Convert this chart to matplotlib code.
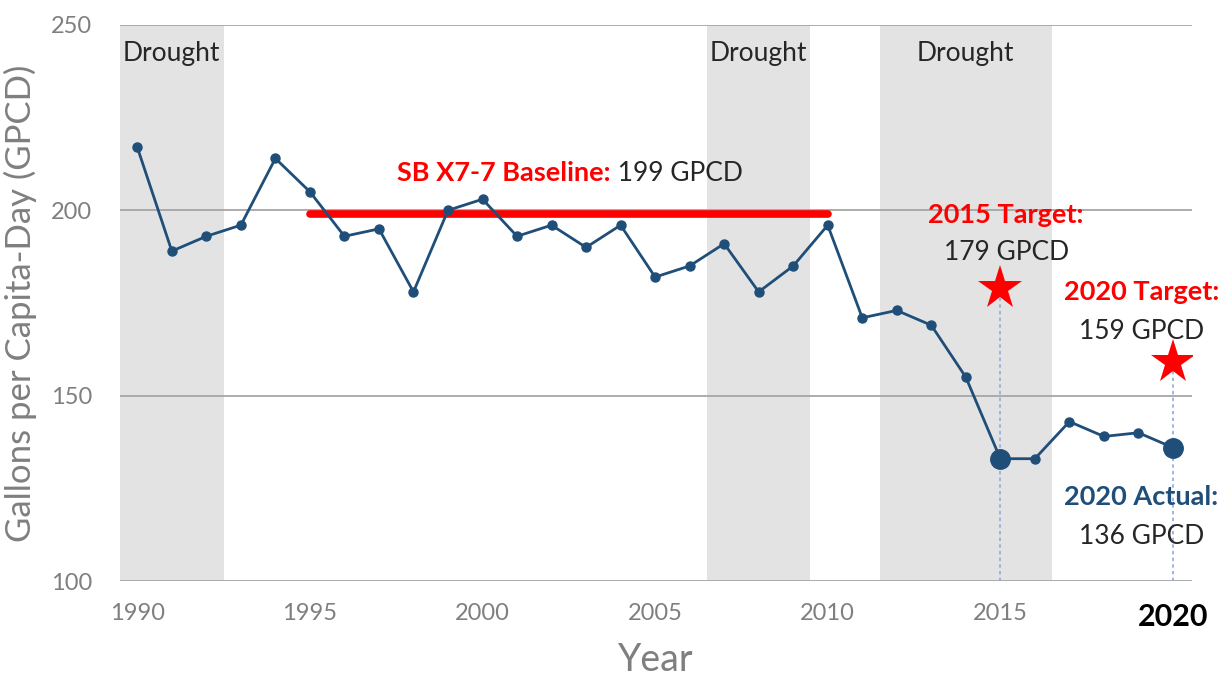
import matplotlib
matplotlib.use("Agg")
import matplotlib.pyplot as plt

plt.rcParams["font.family"] = ["Lato", "DejaVu Sans"]

# data
years = list(range(1990, 2021))
gpcd = [217, 189, 193, 196, 214, 205, 193, 195, 178, 200,
        203, 193, 196, 190, 196, 182, 185, 191, 178, 185,
        196, 171, 173, 169, 155, 133, 133, 143, 139, 140, 136]

drought_periods = [(1989.5, 1992.5), (2006.5, 2009.5), (2011.5, 2016.5)]

baseline_years = [1995, 2010]
baseline_value = 199

target_years = [2015, 2020]
target_values = [179, 159]
highlight_years = [2015, 2020]

x_ticks = [1990, 1995, 2000, 2005, 2010, 2015, 2020]
y_ticks = [100, 150, 200, 250]

LINE_BLUE = "#1f4e79"
RED = "#ff0000"
GREY_TEXT = "#7f7f7f"
DARK_TEXT = "#262626"
FS = 19
FS_BOLD = 19.5

fig = plt.figure(figsize=(12.25, 6.79), dpi=100)
ax = fig.add_axes([0.098, 0.1443, 0.875, 0.8189])

for start, end in drought_periods:
    ax.axvspan(start, end, color="#e3e3e3", lw=0, zorder=0)
    ax.text((start + end) / 2, 242.4, "Drought", ha="center", va="center",
            fontsize=FS, color=DARK_TEXT, zorder=3)

for y in y_ticks:
    ax.axhline(y, color="#a6a6a6", lw=1.3, zorder=1)

# targets: dotted drop lines and stars
for yr, val in zip(target_years, target_values):
    ax.vlines(yr, 100, val, colors="#8eaadb", linestyles=(0, (2, 2)), lw=1.2, zorder=2)
ax.plot(target_years, target_values, linestyle="none", marker="*", markersize=33,
        color=RED, markeredgewidth=0, zorder=5)

ax.plot(baseline_years, [baseline_value] * 2, color=RED, lw=5.5,
        solid_capstyle="round", zorder=3)

ax.plot(years, gpcd, color=LINE_BLUE, lw=2, marker="o", markersize=6.5, zorder=4)
hl_vals = [gpcd[years.index(yr)] for yr in highlight_years]
ax.plot(highlight_years, hl_vals, linestyle="none", marker="o", markersize=14,
        color=LINE_BLUE, zorder=4)

# annotations
bl = ax.text(1997.53, 210, "SB X7-7 Baseline:", ha="left", va="center", fontsize=FS_BOLD,
             fontweight="bold", color=RED, zorder=6)
ax.annotate(" 199 GPCD", xy=(1, 0.5), xycoords=bl, ha="left", va="center",
            fontsize=FS, color=DARK_TEXT, zorder=6)

ax.text(2015.17, 198.7, "2015 Target:", ha="center", va="center", fontsize=FS_BOLD,
        fontweight="bold", color=RED, zorder=6)
ax.text(2015.17, 188.5, "179 GPCD", ha="center", va="center", fontsize=FS,
        color=DARK_TEXT, zorder=6)
ax.text(2019.09, 178, "2020 Target:", ha="center", va="center", fontsize=FS_BOLD,
        fontweight="bold", color=RED, zorder=6)
ax.text(2019.09, 167.3, "159 GPCD", ha="center", va="center", fontsize=FS,
        color=DARK_TEXT, zorder=6)
ax.text(2019.09, 122.7, "2020 Actual:", ha="center", va="center", fontsize=FS_BOLD,
        fontweight="bold", color=LINE_BLUE, zorder=6)
ax.text(2019.09, 112, "136 GPCD", ha="center", va="center", fontsize=FS,
        color=DARK_TEXT, zorder=6)

ax.set_xlim(1989.5, 2020.55)
ax.set_ylim(100, 250)
for side in ["top", "right", "left", "bottom"]:
    ax.spines[side].set_visible(False)

ax.set_xticks(x_ticks)
ax.set_xticklabels([str(x) for x in x_ticks])
ax.set_yticks(y_ticks)
ax.tick_params(axis="both", length=0, labelsize=17, labelcolor=GREY_TEXT)
ax.tick_params(axis="y", pad=20)
ax.tick_params(axis="x", pad=16)
last = ax.get_xticklabels()[-1]
last.set_fontweight("bold")
last.set_fontsize(22)
last.set_color("black")

ax.set_xlabel("Year", fontsize=27, color=GREY_TEXT, labelpad=8)
ax.set_ylabel("Gallons per Capita-Day (GPCD)", fontsize=25, color=GREY_TEXT, labelpad=10)

fig.savefig("out.png", dpi=100)
